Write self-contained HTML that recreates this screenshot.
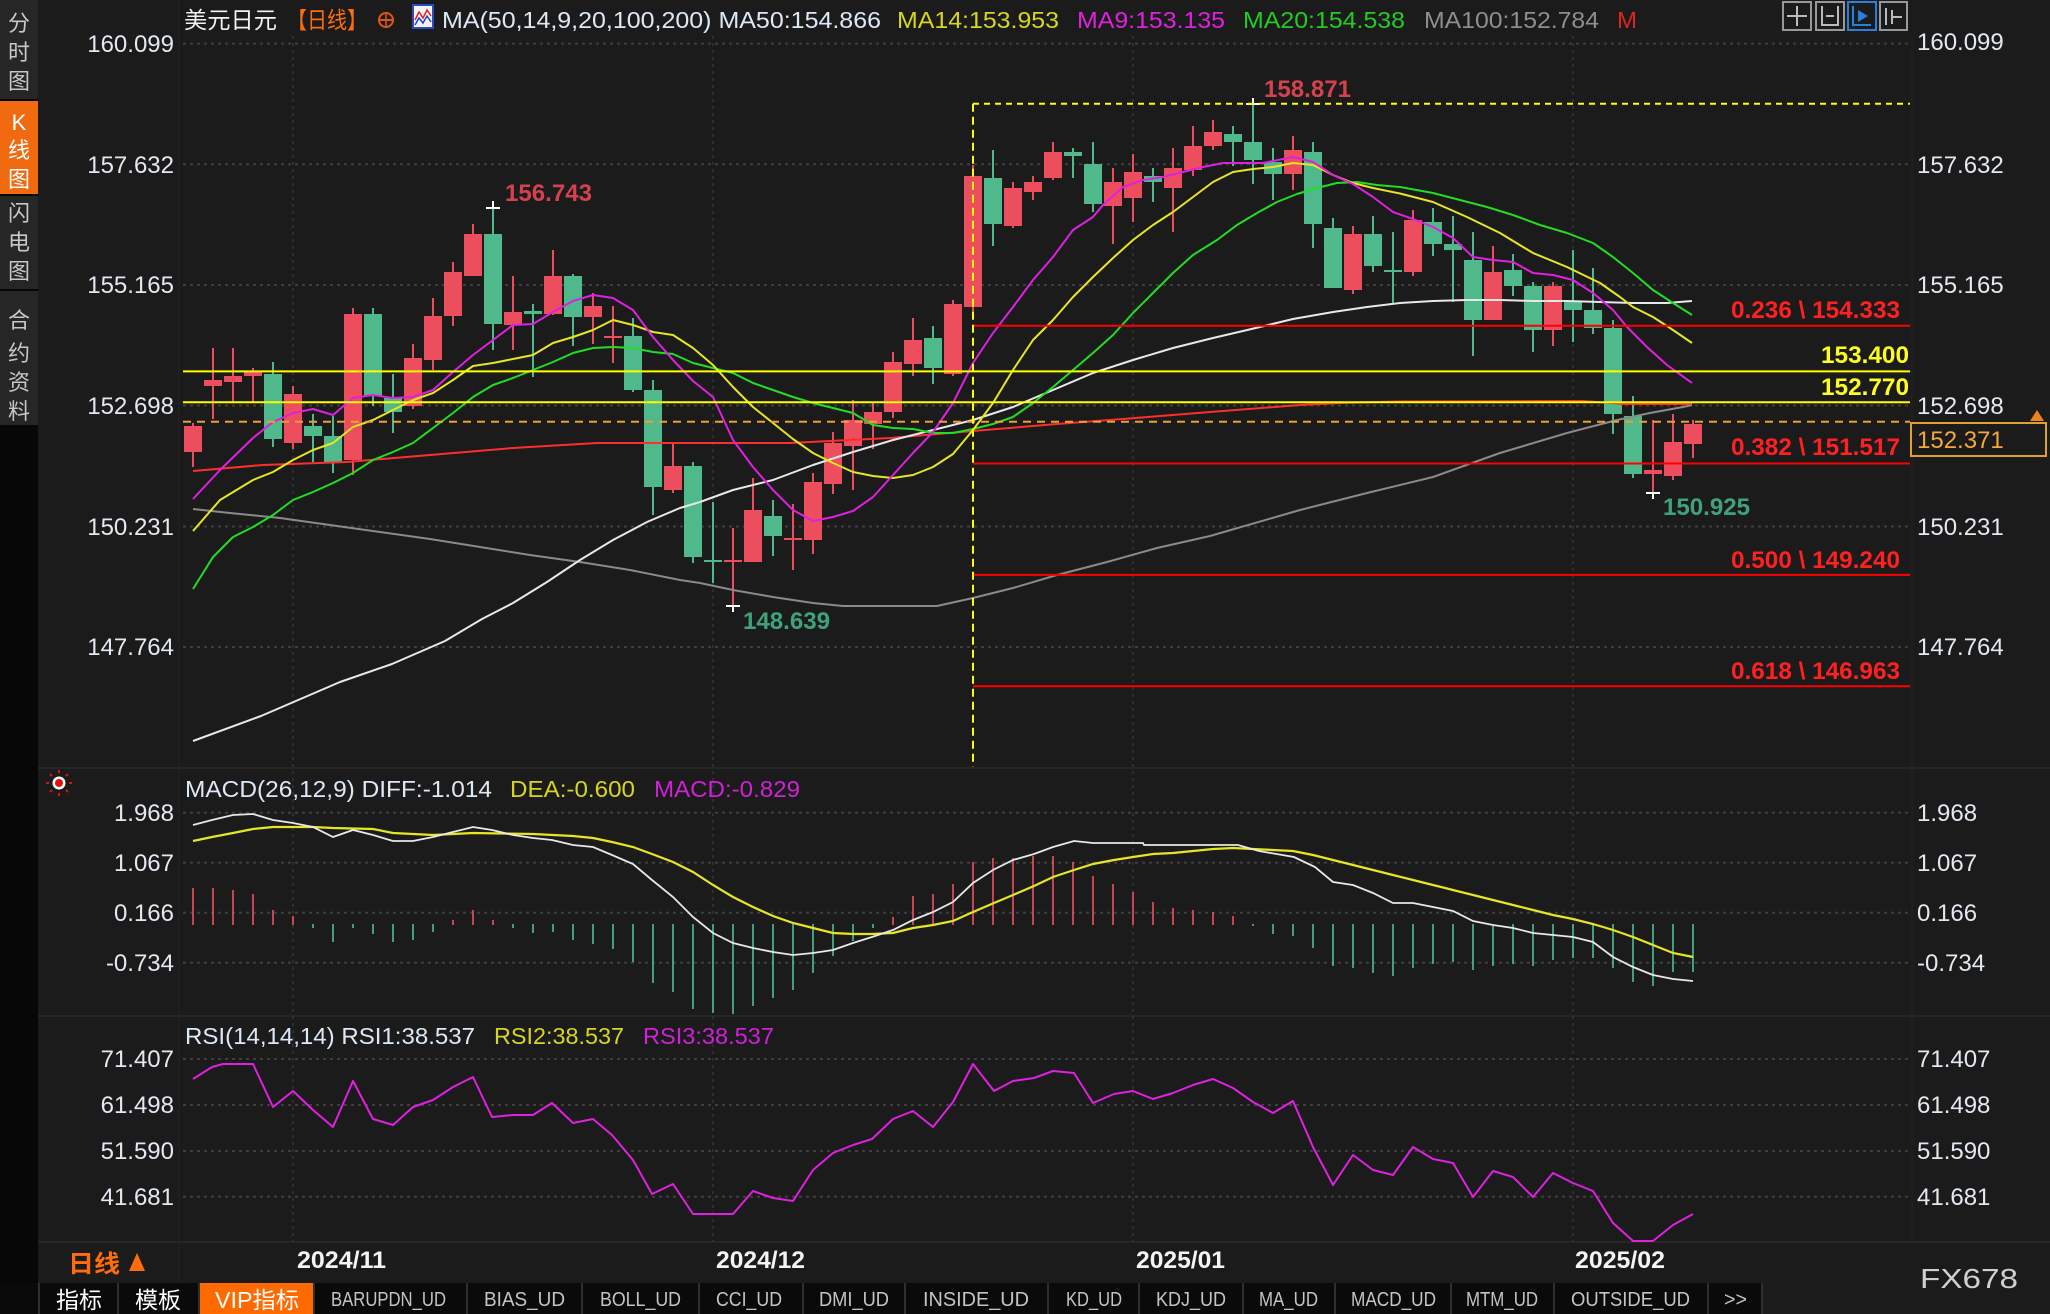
<!DOCTYPE html>
<html>
<head>
<meta charset="utf-8">
<style>
html,body{margin:0;padding:0;background:#1b1b1b;}
body{width:2050px;height:1314px;overflow:hidden;}
svg{display:block;}
text{font-family:"Liberation Sans","Noto Sans CJK SC",sans-serif;}
.ax{font-size:24px;fill:#e4e8f0;}
.mono{font-family:"Liberation Mono","Noto Sans CJK SC",monospace;font-size:20px;fill:#c4c4c4;}
</style>
</head>
<body>
<svg width="2050" height="1314" viewBox="0 0 2050 1314" xmlns="http://www.w3.org/2000/svg">
<rect x="0" y="0" width="2050" height="1314" fill="#1b1b1b"/>

<!-- left sidebar -->
<rect x="0" y="0" width="38" height="1283" fill="#070707"/>
<rect x="0" y="0" width="38" height="99" fill="#262626"/>
<rect x="0" y="101" width="38" height="93" fill="#f26a0f"/>
<rect x="0" y="196" width="38" height="93" fill="#262626"/>
<rect x="0" y="291" width="38" height="134" fill="#262626"/>
<g font-size="22" fill="#c8c8c8" text-anchor="middle">
<text x="19" y="31">分</text><text x="19" y="60">时</text><text x="19" y="89">图</text>
<text x="19" y="130" fill="#ffffff">K</text><text x="19" y="158" fill="#ffffff">线</text><text x="19" y="187" fill="#ffffff">图</text>
<text x="19" y="221">闪</text><text x="19" y="250">电</text><text x="19" y="279">图</text>
<text x="19" y="328">合</text><text x="19" y="361">约</text><text x="19" y="390">资</text><text x="19" y="419">料</text>
</g>

<!-- panel separators -->
<line x1="38" y1="768" x2="2050" y2="768" stroke="#262626" stroke-width="2"/>
<line x1="38" y1="1016" x2="2050" y2="1016" stroke="#262626" stroke-width="2"/>
<line x1="38" y1="1242" x2="2050" y2="1242" stroke="#262626" stroke-width="2"/>
<line x1="179" y1="0" x2="179" y2="1283" stroke="#232323" stroke-width="1"/>
<line x1="1912" y1="36" x2="1912" y2="1242" stroke="#232323" stroke-width="1"/>

<!-- grid -->
<g stroke="#3e3e3e" stroke-width="2" stroke-dasharray="3 4">
<line x1="183" y1="43.6" x2="1910" y2="43.6"/>
<line x1="183" y1="164.3" x2="1910" y2="164.3"/>
<line x1="183" y1="285" x2="1910" y2="285"/>
<line x1="183" y1="405.5" x2="1910" y2="405.5"/>
<line x1="183" y1="526.5" x2="1910" y2="526.5"/>
<line x1="183" y1="647" x2="1910" y2="647"/>
<line x1="183" y1="812.7" x2="1910" y2="812.7"/>
<line x1="183" y1="862.7" x2="1910" y2="862.7"/>
<line x1="183" y1="912.7" x2="1910" y2="912.7"/>
<line x1="183" y1="962.7" x2="1910" y2="962.7"/>
<line x1="183" y1="1059" x2="1910" y2="1059"/>
<line x1="183" y1="1105" x2="1910" y2="1105"/>
<line x1="183" y1="1151" x2="1910" y2="1151"/>
<line x1="183" y1="1196.7" x2="1910" y2="1196.7"/>
</g>
<g stroke="#343434" stroke-width="1.5" stroke-dasharray="3 4">
<line x1="293" y1="36" x2="293" y2="1242"/>
<line x1="713" y1="36" x2="713" y2="1242"/>
<line x1="1133" y1="36" x2="1133" y2="1242"/>
<line x1="1573" y1="36" x2="1573" y2="1242"/>
</g>

<!-- header -->
<text x="184" y="28" font-size="23" fill="#f2f2f2" textLength="93" lengthAdjust="spacingAndGlyphs">美元日元</text>
<text x="287" y="28" font-size="23" fill="#ff6d0a" textLength="80" lengthAdjust="spacingAndGlyphs">【日线】</text>
<circle cx="386" cy="20" r="7" fill="none" stroke="#e0561a" stroke-width="2"/>
<line x1="379" y1="20" x2="393" y2="20" stroke="#e0561a" stroke-width="2"/>
<line x1="386" y1="13" x2="386" y2="27" stroke="#e0561a" stroke-width="1.5"/>
<rect x="413" y="5" width="20" height="23" fill="#f4f4f4" stroke="#2a4cc0" stroke-width="2"/>
<polyline points="415,20 419,12 423,18 427,10 431,16" fill="none" stroke="#e02020" stroke-width="1.5"/>
<polyline points="415,25 419,18 423,23 427,16 431,22" fill="none" stroke="#2040d0" stroke-width="1.5"/>
<text x="442" y="28" font-size="23" fill="#dde8f6" textLength="439" lengthAdjust="spacingAndGlyphs">MA(50,14,9,20,100,200) MA50:154.866</text>
<text x="897" y="28" font-size="23" fill="#d6d620" textLength="162" lengthAdjust="spacingAndGlyphs">MA14:153.953</text>
<text x="1077" y="28" font-size="23" fill="#e020e0" textLength="148" lengthAdjust="spacingAndGlyphs">MA9:153.135</text>
<text x="1243" y="28" font-size="23" fill="#22cc22" textLength="162" lengthAdjust="spacingAndGlyphs">MA20:154.538</text>
<text x="1424" y="28" font-size="23" fill="#8e8e8e" textLength="175" lengthAdjust="spacingAndGlyphs">MA100:152.784</text>
<text x="1617" y="28" font-size="23" fill="#e02222" textLength="20" lengthAdjust="spacingAndGlyphs">M</text>

<!-- toolbar icons -->
<rect x="1783" y="2" width="28" height="28" fill="#1b1b1b" stroke="#999" stroke-width="2"/>
<rect x="1816" y="2" width="28" height="28" fill="#1b1b1b" stroke="#999" stroke-width="2"/>
<rect x="1848" y="2" width="28" height="28" fill="#1b1b1b" stroke="#2a7fd8" stroke-width="2"/>
<rect x="1880" y="2" width="27" height="28" fill="#1b1b1b" stroke="#999" stroke-width="2"/>
<g stroke="#bbb" stroke-width="2" fill="none">
<path d="M1797 6V26M1787 16H1807"/>
<path d="M1822 6V26M1838 6V26M1822 25H1838M1826 16H1834"/>
<path d="M1886 8V25M1892 10V24M1892 17H1902"/>
</g>
<path d="M1853 6V26M1853 25H1871" stroke="#2a7fd8" stroke-width="2" fill="none"/>
<polygon points="1858,10 1868,16 1858,22" fill="#2a7fd8"/>

<!-- left axis labels -->
<g class="ax" text-anchor="end">
<text x="174" y="52">160.099</text>
<text x="174" y="173">157.632</text>
<text x="174" y="293">155.165</text>
<text x="174" y="414">152.698</text>
<text x="174" y="535">150.231</text>
<text x="174" y="655">147.764</text>
<text x="174" y="821">1.968</text>
<text x="174" y="871">1.067</text>
<text x="174" y="921">0.166</text>
<text x="174" y="971">-0.734</text>
<text x="174" y="1067">71.407</text>
<text x="174" y="1113">61.498</text>
<text x="174" y="1159">51.590</text>
<text x="174" y="1205">41.681</text>
</g>
<!-- right axis labels -->
<g class="ax">
<text x="1917" y="50">160.099</text>
<text x="1917" y="173">157.632</text>
<text x="1917" y="293">155.165</text>
<text x="1917" y="414">152.698</text>
<text x="1917" y="535">150.231</text>
<text x="1917" y="655">147.764</text>
<text x="1917" y="821">1.968</text>
<text x="1917" y="871">1.067</text>
<text x="1917" y="921">0.166</text>
<text x="1917" y="971">-0.734</text>
<text x="1917" y="1067">71.407</text>
<text x="1917" y="1113">61.498</text>
<text x="1917" y="1159">51.590</text>
<text x="1917" y="1205">41.681</text>
</g>

<!-- candles -->
<path fill="none" stroke="#ec4e5d" stroke-width="2" d="M193 423V467M213 348V419M233 348V402M253 368V402M293 386V449M353 308V475M413 344V409M433 298V370M453 262V326M473 224V276M513 276V350M553 250V315M593 293V344M613 306V363M673 443V493M733 528V607M753 478V562M793 504V570M813 473V554M833 432V494M853 400V490M873 403V449M893 352V418M913 318V376M953 300V376M973 165V312M1013 182V228M1033 176V200M1053 142V180M1113 168V244M1133 154V222M1173 148V232M1193 126V176M1213 120V150M1293 136V190M1353 226V294M1413 210V276M1493 246V320M1553 282V346M1653 420V494M1673 414V480M1693 420V458"/>
<g fill="#ec4e5d">
<rect x="184" y="426" width="18" height="26"/>
<rect x="204" y="380" width="18" height="6"/>
<rect x="224" y="376" width="18" height="6"/>
<rect x="244" y="371" width="18" height="5"/>
<rect x="284" y="394" width="18" height="49"/>
<rect x="344" y="314" width="18" height="146"/>
<rect x="404" y="358" width="18" height="48"/>
<rect x="424" y="316" width="18" height="44"/>
<rect x="444" y="272" width="18" height="44"/>
<rect x="464" y="234" width="18" height="42"/>
<rect x="504" y="312" width="18" height="13"/>
<rect x="544" y="276" width="18" height="38"/>
<rect x="584" y="306" width="18" height="11"/>
<rect x="604" y="336" width="18" height="2"/>
<rect x="664" y="466" width="18" height="24"/>
<rect x="724" y="560" width="18" height="2"/>
<rect x="744" y="510" width="18" height="52"/>
<rect x="784" y="538" width="18" height="2"/>
<rect x="804" y="482" width="18" height="58"/>
<rect x="824" y="443" width="18" height="41"/>
<rect x="844" y="420" width="18" height="26"/>
<rect x="864" y="412" width="18" height="12"/>
<rect x="884" y="362" width="18" height="50"/>
<rect x="904" y="340" width="18" height="24"/>
<rect x="944" y="304" width="18" height="70"/>
<rect x="964" y="176" width="18" height="131"/>
<rect x="1004" y="188" width="18" height="38"/>
<rect x="1024" y="182" width="18" height="10"/>
<rect x="1044" y="152" width="18" height="26"/>
<rect x="1104" y="182" width="18" height="24"/>
<rect x="1124" y="172" width="18" height="26"/>
<rect x="1164" y="168" width="18" height="20"/>
<rect x="1184" y="146" width="18" height="24"/>
<rect x="1204" y="132" width="18" height="14"/>
<rect x="1284" y="150" width="18" height="24"/>
<rect x="1344" y="234" width="18" height="56"/>
<rect x="1404" y="220" width="18" height="52"/>
<rect x="1484" y="272" width="18" height="48"/>
<rect x="1544" y="286" width="18" height="44"/>
<rect x="1644" y="470" width="18" height="4"/>
<rect x="1664" y="442" width="18" height="34"/>
<rect x="1684" y="424" width="18" height="20"/>
</g>
<path fill="none" stroke="#50b98b" stroke-width="2" d="M273 362V447M313 414V462M333 416V473M373 308V406M393 374V433M493 209V350M533 304V377M573 274V346M633 318V392M653 380V515M693 462V563M713 502V583M773 500V556M933 326V384M993 150V246M1073 148V178M1093 142V212M1153 168V202M1233 126V166M1253 104V184M1273 148V200M1313 142V248M1333 218V288M1373 216V272M1393 232V304M1433 208V256M1453 216V302M1473 232V356M1513 254V296M1533 282V352M1573 250V342M1593 268V334M1613 320V434M1633 396V478"/>
<g fill="#50b98b">
<rect x="264" y="374" width="18" height="65"/>
<rect x="304" y="426" width="18" height="10"/>
<rect x="324" y="436" width="18" height="26"/>
<rect x="364" y="314" width="18" height="82"/>
<rect x="384" y="398" width="18" height="14"/>
<rect x="484" y="234" width="18" height="90"/>
<rect x="524" y="311" width="18" height="3"/>
<rect x="564" y="276" width="18" height="41"/>
<rect x="624" y="336" width="18" height="54"/>
<rect x="644" y="390" width="18" height="97"/>
<rect x="684" y="466" width="18" height="91"/>
<rect x="704" y="560" width="18" height="2"/>
<rect x="764" y="516" width="18" height="20"/>
<rect x="924" y="338" width="18" height="30"/>
<rect x="984" y="178" width="18" height="46"/>
<rect x="1064" y="152" width="18" height="4"/>
<rect x="1084" y="164" width="18" height="40"/>
<rect x="1144" y="176" width="18" height="6"/>
<rect x="1224" y="134" width="18" height="8"/>
<rect x="1244" y="142" width="18" height="18"/>
<rect x="1264" y="162" width="18" height="12"/>
<rect x="1304" y="152" width="18" height="72"/>
<rect x="1324" y="228" width="18" height="60"/>
<rect x="1364" y="234" width="18" height="32"/>
<rect x="1384" y="270" width="18" height="2"/>
<rect x="1424" y="222" width="18" height="22"/>
<rect x="1444" y="244" width="18" height="6"/>
<rect x="1464" y="260" width="18" height="60"/>
<rect x="1504" y="270" width="18" height="16"/>
<rect x="1524" y="286" width="18" height="44"/>
<rect x="1564" y="302" width="18" height="8"/>
<rect x="1584" y="310" width="18" height="18"/>
<rect x="1604" y="328" width="18" height="86"/>
<rect x="1624" y="416" width="18" height="58"/>
</g>

<!-- high/low markers -->
<g stroke="#ffffff" stroke-width="2">
<path d="M486 208H500M493 201V208"/>
<path d="M726 606H740M733 606V612"/>
<path d="M1246 104H1260M1253 98V104"/>
<path d="M1646 493H1660M1653 493V499"/>
</g>

<!-- MA lines -->
<g fill="none" stroke-width="2" stroke-linejoin="round">
<polyline stroke="#8a8a8a" points="193,509 230,513 280,518 330,525 380,532 430,539 480,547 530,555 580,562 630,570 680,580 700,583 733,590 773,597 813,603 843,606 937,606 973,598 1013,588 1057,575 1107,562 1157,548 1210,536 1300,510 1367,493 1433,477 1500,453 1567,433 1617,420 1650,413 1683,407 1692,405"/>
<polyline stroke="#ff2e2e" points="193,471 263,465 347,462 430,455 513,448 597,443 700,443 790,443 890,438 973,431 1057,424 1123,419 1210,412 1300,405 1341,403 1400,401.5 1583,401 1624,404 1692,404"/>
<polyline stroke="#e8e8e8" points="193,741 261,716 340,682 392,664 445,641 482,619 513,603 547,582 580,560 613,540 647,522 680,508 700,502 733,490 773,480 813,465 853,452 893,440 933,430 973,420 1013,407 1053,390 1093,373 1133,360 1173,348 1213,338 1260,327 1293,319 1333,312 1367,307 1400,303 1433,301 1467,300 1500,300 1533,301 1567,301 1600,302 1633,303 1667,303 1692,301"/>
<polyline stroke="#22dd22" points="193,589 213,557 233,537 253,527 273,515 293,500 313,492 333,483 353,473 373,460 393,452 413,443 433,428 453,413 473,397 493,385 513,378 533,370 553,362 573,353 593,348 613,347 633,348 653,352 673,354 693,363 713,368 733,373 753,383 773,390 793,397 813,403 833,408 853,413 873,425 893,428 913,429 933,433 953,433 973,429 993,424 1013,417 1033,403 1053,387 1073,370 1093,353 1113,335 1133,313 1153,293 1173,273 1193,255 1217,240 1237,225 1257,213 1277,202 1297,194 1317,188 1337,183 1357,182 1377,185 1400,187 1433,193 1460,200 1487,207 1513,215 1540,225 1567,233 1593,243 1613,257 1633,273 1653,290 1673,303 1692,315"/>
<polyline stroke="#e6e622" points="193,531 220,500 253,480 273,472 293,460 313,450 333,443 353,427 373,420 393,410 413,400 433,393 453,380 473,366 493,363 513,359 533,355 553,343 573,337 593,330 613,320 633,325 653,332 673,335 693,348 713,365 733,387 753,407 773,423 793,439 813,453 833,463 853,472 873,476 893,478 913,475 933,467 953,454 973,430 993,403 1013,370 1033,340 1053,320 1073,297 1093,277 1113,258 1133,240 1153,225 1173,212 1193,197 1213,182 1233,172 1253,169 1273,167 1293,163 1313,165 1333,175 1353,183 1373,188 1400,193.5 1433,202 1467,217 1500,233 1533,253 1567,267 1600,283 1620,297 1633,307 1653,317 1670,328 1692,343"/>
<polyline stroke="#e020e0" points="193,499 220,470 253,438 273,422 293,413 313,409 333,415 353,398 373,395 393,398 413,397 433,390 453,372 473,355 493,340 513,325 533,324 553,312 573,301 593,295 613,298 633,310 653,337 673,360 693,381 713,397 733,440 753,467 773,490 793,510 813,521 833,517 853,511 873,497 893,475 913,453 933,432 953,403 973,363 993,333 1013,307 1033,280 1053,257 1073,230 1093,217 1103,205 1123,187 1143,180 1163,177 1183,172 1203,167 1223,163 1243,163 1263,163 1283,159 1293,157 1313,162 1333,175 1353,184 1373,197 1393,212 1413,219 1433,227 1453,238 1473,257 1493,260 1513,262 1533,273 1553,275 1573,280 1593,293 1613,310 1627,327 1647,347 1667,365 1692,383"/>
</g>

<!-- horizontal levels -->
<line x1="183" y1="421.7" x2="1910" y2="421.7" stroke="#f0a030" stroke-width="2" stroke-dasharray="8 6"/>
<line x1="183" y1="371.4" x2="1910" y2="371.4" stroke="#ffff00" stroke-width="2"/>
<line x1="183" y1="402.2" x2="1910" y2="402.2" stroke="#ffff00" stroke-width="2"/>
<g stroke="#ff0000" stroke-width="2">
<line x1="973" y1="325.7" x2="1910" y2="325.7"/>
<line x1="973" y1="463.5" x2="1910" y2="463.5"/>
<line x1="973" y1="574.9" x2="1910" y2="574.9"/>
<line x1="973" y1="686.3" x2="1910" y2="686.3"/>
</g>
<line x1="973" y1="103.7" x2="1910" y2="103.7" stroke="#ffff00" stroke-width="2" stroke-dasharray="6 5"/>
<line x1="973" y1="103.7" x2="973" y2="767" stroke="#ffff00" stroke-width="2" stroke-dasharray="8 5"/>

<!-- annotations -->
<g font-weight="bold" font-size="24">
<text x="505" y="201" fill="#d4424f" textLength="87" lengthAdjust="spacingAndGlyphs">156.743</text>
<text x="1264" y="97" fill="#d4424f" textLength="87" lengthAdjust="spacingAndGlyphs">158.871</text>
<text x="743" y="629" fill="#3fa37a" textLength="87" lengthAdjust="spacingAndGlyphs">148.639</text>
<text x="1663" y="515" fill="#3fa37a" textLength="87" lengthAdjust="spacingAndGlyphs">150.925</text>
<text x="1731" y="318" fill="#ff2020" textLength="169" lengthAdjust="spacingAndGlyphs">0.236 \ 154.333</text>
<text x="1731" y="455" fill="#ff2020" textLength="169" lengthAdjust="spacingAndGlyphs">0.382 \ 151.517</text>
<text x="1731" y="568" fill="#ff2020" textLength="169" lengthAdjust="spacingAndGlyphs">0.500 \ 149.240</text>
<text x="1731" y="679" fill="#ff2020" textLength="169" lengthAdjust="spacingAndGlyphs">0.618 \ 146.963</text>
<text x="1821" y="363" fill="#ffff20" textLength="88" lengthAdjust="spacingAndGlyphs">153.400</text>
<text x="1821" y="395" fill="#ffff20" textLength="88" lengthAdjust="spacingAndGlyphs">152.770</text>
</g>

<!-- current price box -->
<rect x="1911" y="423" width="135" height="33" fill="#1b1b1b" stroke="#e0a030" stroke-width="2"/>
<text x="1917" y="448" font-size="24" fill="#f4a83a">152.371</text>
<polygon points="2030,421 2044,421 2037,410" fill="#f08020"/>

<!-- MACD panel -->
<g transform="translate(59,783)">
<circle r="6.5" fill="#ffffff"/><circle r="4" fill="#e01010"/>
<g stroke="#e01010" stroke-width="2"><path d="M0 -13V-10M0 10V13M-13 0H-10M10 0H13M-9 -9L-7 -7M9 9L7 7M-9 9L-7 7M9 -9L7 -7"/></g>
</g>
<text x="185" y="797" font-size="23" fill="#dde8f6" textLength="307" lengthAdjust="spacingAndGlyphs">MACD(26,12,9) DIFF:-1.014</text>
<text x="510" y="797" font-size="23" fill="#d6d620" textLength="125" lengthAdjust="spacingAndGlyphs">DEA:-0.600</text>
<text x="654" y="797" font-size="23" fill="#d020d8" textLength="146" lengthAdjust="spacingAndGlyphs">MACD:-0.829</text>
<path fill="none" stroke="#f0505f" stroke-width="1.6" d="M193 925V888M213 925V888M233 925V890M253 925V894M273 925V910M293 925V916M453 925V920M473 925V910M493 925V920M893 925V917M913 925V896M933 925V894M953 925V884M973 925V862M993 925V858M1013 925V858M1033 925V856M1053 925V856M1073 925V862M1093 925V876M1113 925V884M1133 925V892M1153 925V902M1173 925V908M1193 925V910M1213 925V912M1233 925V916"/>
<path fill="none" stroke="#50c090" stroke-width="1.6" d="M313 924V928M333 924V942M353 924V928M373 924V934M393 924V942M413 924V940M433 924V932M513 924V928M533 924V933M553 924V932M573 924V940M593 924V944M613 924V949M633 924V962M653 924V983M673 924V992M693 924V1009M713 924V1013M733 924V1014M753 924V1006M773 924V998M793 924V990M813 924V973M833 924V956M853 924V941M873 924V928M1253 924V926M1273 924V934M1293 924V936M1313 924V948M1333 924V966M1353 924V968M1373 924V973M1393 924V976M1413 924V968M1433 924V964M1453 924V962M1473 924V970M1493 924V966M1513 924V964M1533 924V966M1553 924V960M1573 924V958M1593 924V958M1613 924V968M1633 924V982M1653 924V986M1673 924V972M1693 924V972"/>
<polyline fill="none" stroke="#e6e622" stroke-width="2.2" points="193,841 212,837 233,833 253,829 273,827 313,827 333,828 373,829 393,833 433,835 473,833 533,834 573,836 593,838 612,842 633,847 652,854 673,862 693,872 713,885 733,897 753,907 773,916 793,923 813,928 833,933 853,934 872,934 893,933 913,928 933,925 953,921 973,912 994,903 1013,895 1034,886 1053,877 1074,870 1093,864 1114,860 1133,857 1153,854 1173,853 1193,851 1213,849 1233,848 1253,849 1293,851 1313,855 1333,860 1353,865 1373,870 1393,875 1413,880 1433,885 1453,890 1473,895 1493,900 1513,905 1533,910 1553,915 1573,919 1593,924 1613,930 1633,937 1653,945 1673,953 1693,957"/>
<polyline fill="none" stroke="#e8e8e8" stroke-width="1.8" points="193,825 212,820 233,815 253,814 273,820 293,823 313,827 333,837 353,830 373,835 393,841 413,841 433,837 453,832 473,827 492,830 513,835 533,838 552,840 573,845 593,847 612,855 633,864 652,880 673,897 693,917 713,933 733,943 753,948 773,952 793,955 813,953 833,950 853,943 872,937 893,930 913,920 933,912 953,902 973,883 993,870 1013,860 1034,854 1053,847 1074,841 1093,843 1143,843 1144,845 1238,845 1259,851 1294,857 1315,867 1333,882 1353,885 1373,893 1393,903 1413,903 1433,907 1453,911 1473,921 1493,925 1513,928 1533,933 1553,935 1573,937 1593,942 1613,957 1633,967 1653,975 1673,979 1693,981"/>

<!-- RSI panel -->
<text x="185" y="1044" font-size="23" fill="#dde8f6" textLength="290" lengthAdjust="spacingAndGlyphs">RSI(14,14,14) RSI1:38.537</text>
<text x="494" y="1044" font-size="23" fill="#d6d620" textLength="130" lengthAdjust="spacingAndGlyphs">RSI2:38.537</text>
<text x="643" y="1044" font-size="23" fill="#d020d8" textLength="131" lengthAdjust="spacingAndGlyphs">RSI3:38.537</text>
<polyline fill="none" stroke="#e020e0" stroke-width="2" stroke-linejoin="round" points="193,1079 212,1067 223,1064 253,1064 273,1107 293,1091 313,1110 333,1127 353,1081 373,1119 393,1125 413,1107 433,1100 453,1087 473,1077 492,1117 513,1115 533,1115 552,1103 573,1123 593,1119 612,1135 633,1160 652,1194 673,1184 693,1214 733,1214 753,1191 773,1198 793,1201 813,1170 833,1153 853,1145 872,1139 893,1119 913,1111 933,1127 953,1102 973,1064 994,1091 1013,1081 1034,1078 1053,1071 1074,1073 1093,1103 1114,1094 1133,1091 1153,1099 1173,1093 1193,1085 1213,1079 1233,1088 1253,1102 1273,1113 1293,1101 1313,1147 1333,1185 1353,1155 1373,1170 1393,1175 1413,1147 1433,1159 1453,1163 1473,1197 1493,1171 1513,1177 1533,1197 1553,1173 1573,1183 1593,1191 1613,1223 1633,1241 1653,1241 1673,1225 1693,1214"/>

<!-- time axis -->
<text x="68" y="1272" font-size="24" font-weight="bold" fill="#ff6d0a" textLength="52" lengthAdjust="spacingAndGlyphs">日线</text>
<polygon points="129,1271 145,1271 137,1253" fill="#ff6d0a"/>
<g font-size="24" font-weight="bold" fill="#f4f4f4">
<text x="297" y="1268" textLength="89" lengthAdjust="spacingAndGlyphs">2024/11</text>
<text x="716" y="1268" textLength="89" lengthAdjust="spacingAndGlyphs">2024/12</text>
<text x="1136" y="1268" textLength="89" lengthAdjust="spacingAndGlyphs">2025/01</text>
<text x="1575" y="1268" textLength="90" lengthAdjust="spacingAndGlyphs">2025/02</text>
</g>
<text x="1920" y="1288" font-size="28" fill="#cfcfcf" textLength="98" lengthAdjust="spacingAndGlyphs">FX678</text>

<!-- bottom tabs -->
<rect x="0" y="1283" width="1762" height="31" fill="#0a0a0a"/>
<rect x="199" y="1283" width="115" height="31" fill="#ff6a00"/>
<g stroke="#2e2e2e" stroke-width="2">
<path d="M39 1283V1314M118 1283V1314M199 1283V1314M314 1283V1314M467 1283V1314M582 1283V1314M699 1283V1314M803 1283V1314M905 1283V1314M1048 1283V1314M1139 1283V1314M1243 1283V1314M1335 1283V1314M1451 1283V1314M1554 1283V1314M1708 1283V1314M1762 1283V1314"/>
</g>
<g font-size="23" fill="#ffffff">
<text x="56" y="1308" textLength="46" lengthAdjust="spacingAndGlyphs">指标</text>
<text x="135" y="1308" textLength="46" lengthAdjust="spacingAndGlyphs">模板</text>
<text x="215" y="1308" textLength="84" lengthAdjust="spacingAndGlyphs">VIP指标</text>
</g>
<g class="mono">
<text x="331" y="1306" textLength="115" lengthAdjust="spacingAndGlyphs">BARUPDN_UD</text>
<text x="484" y="1306" textLength="81" lengthAdjust="spacingAndGlyphs">BIAS_UD</text>
<text x="600" y="1306" textLength="81" lengthAdjust="spacingAndGlyphs">BOLL_UD</text>
<text x="716" y="1306" textLength="66" lengthAdjust="spacingAndGlyphs">CCI_UD</text>
<text x="819" y="1306" textLength="70" lengthAdjust="spacingAndGlyphs">DMI_UD</text>
<text x="923" y="1306" textLength="106" lengthAdjust="spacingAndGlyphs">INSIDE_UD</text>
<text x="1066" y="1306" textLength="56" lengthAdjust="spacingAndGlyphs">KD_UD</text>
<text x="1156" y="1306" textLength="70" lengthAdjust="spacingAndGlyphs">KDJ_UD</text>
<text x="1259" y="1306" textLength="59" lengthAdjust="spacingAndGlyphs">MA_UD</text>
<text x="1351" y="1306" textLength="85" lengthAdjust="spacingAndGlyphs">MACD_UD</text>
<text x="1466" y="1306" textLength="72" lengthAdjust="spacingAndGlyphs">MTM_UD</text>
<text x="1571" y="1306" textLength="119" lengthAdjust="spacingAndGlyphs">OUTSIDE_UD</text>
<text x="1724" y="1306" textLength="23" lengthAdjust="spacingAndGlyphs">&gt;&gt;</text>
</g>
</svg>
</body>
</html>
